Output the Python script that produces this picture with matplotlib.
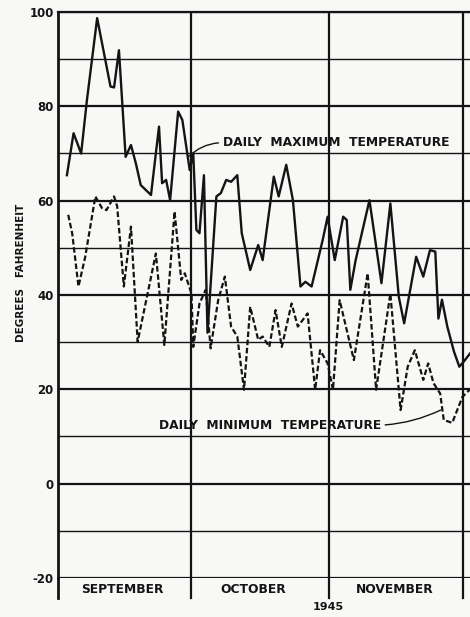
import numpy as np
import matplotlib
matplotlib.use("Agg")
import matplotlib.pyplot as plt
import matplotlib.transforms as mtransforms

# day number counted from 1 Sept 1945 (Oct 1 = 30, Nov 1 = 61, Dec 1 = 91)
max_day = [2.0, 3.5, 5.2, 6.5, 8.8, 11.8, 12.6, 13.7, 15.2, 16.4, 17.5, 18.6, 20.9,
           22.7, 23.4, 24.3, 25.2, 27.0, 27.95, 29.6, 30.4, 31.1, 31.8, 32.8, 33.6,
           34.5, 35.6, 36.6, 37.8, 38.9, 40.3, 41.3, 43.2, 45.0, 46.0, 48.5, 49.6,
           51.3, 52.8, 54.5, 55.6, 57.0, 59.5, 60.6, 62.2, 64.1, 64.9, 65.7, 66.9,
           70.0, 72.7, 74.7, 76.6, 77.8, 80.5, 82.1, 83.6, 84.8, 85.5, 86.3, 87.5,
           89.0, 90.2, 91.3, 92.6]
max_temp = [65.4, 74.3, 70.0, 81.3, 98.7, 84.2, 84.0, 91.9, 69.3, 71.8, 67.9, 63.3, 61.2,
            75.7, 63.7, 64.4, 60.1, 78.9, 77.1, 66.5, 70.0, 53.8, 53.1, 65.4, 32.0,
            45.0, 60.9, 61.6, 64.4, 64.0, 65.4, 53.1, 45.3, 50.6, 47.4, 65.1, 60.9,
            67.6, 60.1, 41.8, 42.8, 41.8, 51.7, 56.6, 47.4, 56.6, 55.9, 41.1, 47.4,
            60.1, 42.5, 59.4, 39.6, 34.0, 48.1, 43.9, 49.5, 49.2, 35.0, 39.0, 33.3,
            28.0, 24.8, 26.0, 27.6]

min_day = [2.3, 3.2, 4.6, 6.1, 8.4, 9.9, 10.9, 12.6, 13.3, 14.8, 16.4, 17.9, 22.0,
           23.9, 26.2, 27.7, 28.5, 30.0, 30.4, 31.8, 33.2, 34.3, 36.0, 37.5, 38.9,
           40.3, 41.8, 43.2, 45.0, 46.0, 47.5, 48.9, 50.3, 52.5, 53.9, 56.1, 57.8,
           58.9, 60.6, 61.8, 63.3, 66.5, 69.6, 71.5, 74.7, 77.0, 78.6, 80.2, 82.1,
           83.2, 84.4, 85.9, 86.7, 88.6, 90.9, 92.6]
min_temp = [57.0, 53.0, 41.8, 48.0, 60.9, 58.4, 58.0, 60.9, 58.8, 41.8, 54.5, 30.1, 48.8,
            29.4, 57.7, 43.2, 44.6, 40.3, 29.0, 38.2, 41.1, 28.7, 38.9, 43.9, 33.3,
            31.2, 19.9, 37.5, 30.5, 31.2, 29.0, 36.8, 29.0, 38.2, 33.3, 36.1, 19.9,
            28.3, 25.5, 19.9, 38.9, 26.2, 44.6, 19.9, 40.3, 15.6, 24.8, 28.3, 22.0,
            25.5, 21.3, 19.1, 13.5, 12.9, 18.4, 20.0]

month_edges = [30, 61, 91]
month_names = ["SEPTEMBER", "OCTOBER", "NOVEMBER"]
month_centers = [14.5, 43.9, 75.6]
yticks = [-20, 0, 20, 40, 60, 80, 100]

ink = "#141414"
paper = "#f8f8f6"

fig = plt.figure(figsize=(4.70, 6.17), dpi=100, facecolor=paper)
ax = fig.add_axes([58/470, 1-578/617, 1-58/470, (578-12)/617])
ax.set_facecolor(paper)
ax.set_xlim(0, 92.6)
ax.set_ylim(-20, 100)

# grid
for t in range(-20, 101, 10):
    lw = 1.6 if t % 20 == 0 else 1.0
    ax.axhline(t, color=ink, lw=lw, zorder=1)
for d in month_edges:
    ax.axvline(d, color=ink, lw=1.6, zorder=1)
    ax.plot([d, d], [0, -0.035], color=ink, lw=1.6, clip_on=False,
            transform=mtransforms.blended_transform_factory(ax.transData, ax.transAxes))
ax.plot([0, 0], [0, -0.035], color=ink, lw=2.0, clip_on=False, transform=ax.transAxes)

for s in ["right", "bottom"]:
    ax.spines[s].set_visible(False)
ax.spines["left"].set_linewidth(2.0)
ax.spines["top"].set_linewidth(1.6)
for s in ["left", "top"]:
    ax.spines[s].set_color(ink)

ax.plot(max_day, max_temp, color=ink, lw=1.7, zorder=3)
ax.plot(min_day, min_temp, color=ink, lw=1.6, ls=(0, (2.5, 1.2)), zorder=3)

ax.set_yticks(yticks)
ax.set_yticklabels([str(t) for t in yticks], fontsize=8.5, fontweight="bold", color=ink)
ax.tick_params(axis="y", length=0, pad=3)
ax.set_xticks([])
ax.set_ylabel("DEGREES   FAHRENHEIT", fontsize=7.5, fontweight="bold", color=ink)
ax.yaxis.set_label_coords(-0.078, 0.54)

for name, c in zip(month_names, month_centers):
    ax.text(c, -22.5, name, ha="center", va="center", fontsize=8.8, fontweight="bold", color=ink)
ax.text(60.7, -26.2, "1945", ha="center", va="center", fontsize=8, fontweight="bold", color=ink)

ax.annotate("DAILY  MAXIMUM  TEMPERATURE", xy=(29.3, 69.3), xytext=(37.0, 72.3),
            fontsize=8.8, fontweight="bold", color=ink, ha="left", va="center",
            arrowprops=dict(arrowstyle="-", color=ink, lw=1.0, shrinkA=1, shrinkB=0,
                            relpos=(0, 0.5), connectionstyle="arc3,rad=0.2"))
ax.annotate("DAILY  MINIMUM  TEMPERATURE", xy=(86.0, 15.6), xytext=(72.6, 12.4),
            fontsize=8.8, fontweight="bold", color=ink, ha="right", va="center",
            arrowprops=dict(arrowstyle="-", color=ink, lw=1.0, shrinkA=1, shrinkB=0,
                            relpos=(1, 0.5), connectionstyle="arc3,rad=0.1"))

plt.savefig("out.png", dpi=100, facecolor=paper)
